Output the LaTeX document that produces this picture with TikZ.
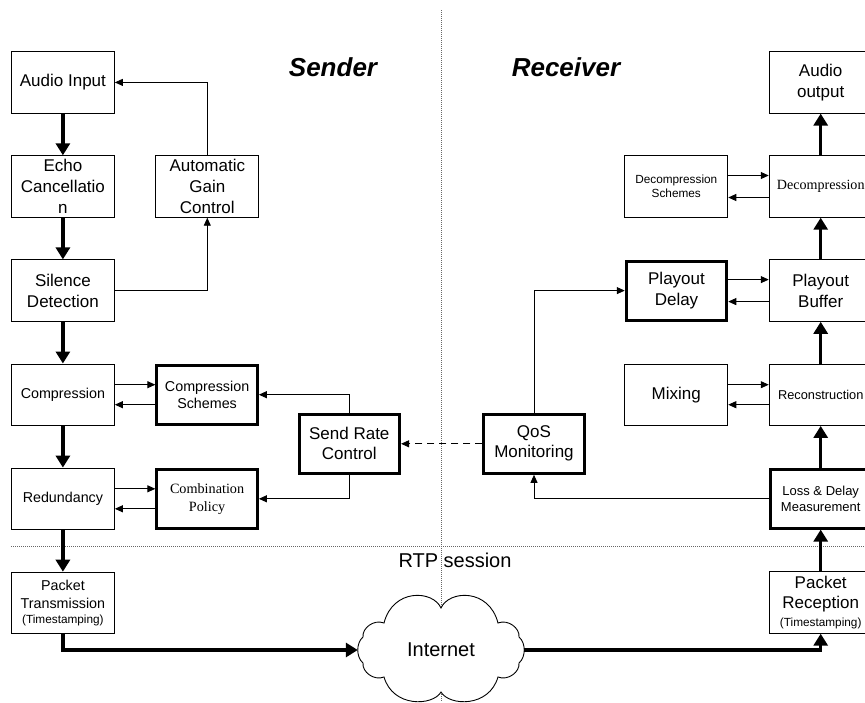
\documentclass[tikz,border=0pt]{standalone}
\usepackage{fontspec}
\setmainfont{Liberation Sans}
\newfontfamily\timesfont{Liberation Serif}
\usetikzlibrary{positioning,arrows.meta}

\begin{document}
\begin{tikzpicture}[
    x=1pt, y=-1pt,
    node distance=41.7pt and 40.5pt,
    audblock/.style={draw, rectangle, line width=0.9pt, minimum height=61.5pt, minimum width=103pt, inner sep=1pt, align=center, font=\fontsize{17}{20.7}\selectfont},
    audbold/.style={audblock, line width=3pt, minimum height=59pt, minimum width=100.5pt},
    midfont/.style={font=\fontsize{14.3}{16.7}\selectfont},
    flowarrow/.style={line width=3.5pt, -{Triangle[length=12pt,width=14pt]}},
    thinarrow/.style={line width=0.9pt, -{Triangle[length=8pt,width=7pt]}},
    dasharrow/.style={thinarrow, dash pattern=on 7pt off 5pt},
    sideline/.style={draw=black!60, line width=0.8pt, dash pattern=on 1pt off 1pt}
]
  \clip (0,0) rectangle (865,702);
  \useasboundingbox (0,0) rectangle (865,702);

  % Separators
  \draw [sideline] (11,546.7) -- (865,546.7);
  \draw [sideline] (441,10) -- (441,702);

  % Sender nodes
  \node (ain) [audblock] at (62.9,82.4) {Audio Input};
  \node (echo) [audblock, below=of ain] {Echo\\Cancellatio\\n};
  \node (sil) [audblock, below=of echo] {Silence\\Detection};
  \node (comp) [audblock, midfont, below=of sil] {Compression};
  \node (red) [audblock, midfont, below=of comp] {Redundancy};
  \node (ptx) [audblock, below=of red, font=\fontsize{14.3}{18.3}\selectfont] {Packet\\Transmission\\[-4pt]{\fontsize{11.8}{14}\selectfont(Timestamping)}};
  \node (agc) [audblock, right=of echo] {Automatic\\Gain\\Control};
  \node (cs) [audbold, midfont, right=of comp] {Compression\\Schemes};
  \node (cp) [audbold, right=of red, font=\timesfont\fontsize{14.2}{17.7}\selectfont] {Combination\\Policy};
  \node (src) [audbold, font=\fontsize{17}{20}\selectfont] at (349.3,443.8) {Send Rate\\Control};

  % Receiver nodes
  \node (aout) [audblock] at (820.7,82.4) {Audio\\output};
  \node (dec) [audblock, below=of aout, font=\timesfont\fontsize{14.1}{17}\selectfont] {Decompression};
  \node (pbuf) [audblock, below=of dec] {Playout\\Buffer};
  \node (rec) [audblock, below=of pbuf, font=\fontsize{12.8}{15}\selectfont] {Reconstruction};
  \node (ldm) [audbold, below=of rec, font=\fontsize{13}{16}\selectfont] {Loss \& Delay\\Measurement};
  \node (prx) [audblock, below=of ldm] {Packet\\Reception\\[-3pt]{\fontsize{11.8}{14}\selectfont(Timestamping)}};
  \node (dsch) [audblock, left=of dec, font=\fontsize{11.8}{13.7}\selectfont] {Decompression\\Schemes};
  \node (pdel) [audbold, left=of pbuf] {Playout\\Delay};
  \node (mix) [audblock, left=of rec] {Mixing};
  \node (qos) [audbold, font=\fontsize{17}{20}\selectfont] at (534,443.8) {QoS\\Monitoring};

  % Labels
  \node (sender) [font=\fontsize{26}{30}\selectfont\bfseries\itshape] at (333,67) {Sender};
  \node (receiver) [font=\fontsize{26}{30}\selectfont\bfseries\itshape] at (566,67) {Receiver};
  \node (rtp) [font=\fontsize{20}{24}\selectfont] at (455,560) {RTP session};

  % Cloud
  \draw [fill=white, line width=0.9pt, shift={(441,650)}]
    (0,-42) .. controls (8,-60) and (48,-62) .. (57,-27)
    .. controls (67,-31) and (79,-22) .. (78,-13)
    .. controls (85,-7) and (85,7) .. (78,13)
    .. controls (79,22) and (67,31) .. (57,27)
    .. controls (48,58) and (8,56) .. (0,42)
    .. controls (-8,56) and (-48,58) .. (-57,27)
    .. controls (-67,31) and (-79,22) .. (-78,13)
    .. controls (-85,7) and (-85,-7) .. (-78,-13)
    .. controls (-79,-22) and (-67,-31) .. (-57,-27)
    .. controls (-48,-62) and (-8,-60) .. (0,-42) -- cycle;
  \node (inet) [font=\fontsize{20}{24}\selectfont] at (441,650) {Internet};
  \coordinate (inetw) at (357.8,650);
  \coordinate (inete) at (524.2,650);

  % Arrows
  \draw [flowarrow] (ain) -- (echo);
  \draw [flowarrow] (echo) -- (sil);
  \draw [flowarrow] (sil) -- (comp);
  \draw [flowarrow] (comp) -- (red);
  \draw [flowarrow] (red) -- (ptx);
  \draw [flowarrow] (ptx.south) |- (inetw);
  \draw [flowarrow] (inete) -| (prx.south);
  \draw [flowarrow] (prx) -- (ldm);
  \draw [flowarrow] (ldm) -- (rec);
  \draw [flowarrow] (rec) -- (pbuf);
  \draw [flowarrow] (pbuf) -- (dec);
  \draw [flowarrow] (dec) -- (aout);

  \draw [thinarrow] (agc.north) |- (ain.east);
  \draw [thinarrow] (sil.east) -| (agc.south);
  \draw [thinarrow] ([yshift=10pt]comp.east) -- ([yshift=10pt]cs.west);
  \draw [thinarrow] ([yshift=-10pt]cs.west) -- ([yshift=-10pt]comp.east);
  \draw [thinarrow] ([yshift=10pt]red.east) -- ([yshift=10pt]cp.west);
  \draw [thinarrow] ([yshift=-10pt]cp.west) -- ([yshift=-10pt]red.east);
  \draw [thinarrow] (src.north) |- (cs.east);
  \draw [thinarrow] (src.south) |- (cp.east);
  \draw [dasharrow] (qos.west) -- (src.east);
  \draw [thinarrow] (qos.north) |- (pdel.west);
  \draw [thinarrow] (ldm.west) -| (qos.south);
  \draw [thinarrow] ([yshift=11pt]dsch.east) -- ([yshift=11pt]dec.west);
  \draw [thinarrow] ([yshift=-11pt]dec.west) -- ([yshift=-11pt]dsch.east);
  \draw [thinarrow] ([yshift=11pt]pdel.east) -- ([yshift=11pt]pbuf.west);
  \draw [thinarrow] ([yshift=-11pt]pbuf.west) -- ([yshift=-11pt]pdel.east);
  \draw [thinarrow] ([yshift=10pt]mix.east) -- ([yshift=10pt]rec.west);
  \draw [thinarrow] ([yshift=-10pt]rec.west) -- ([yshift=-10pt]mix.east);
\end{tikzpicture}
\end{document}
